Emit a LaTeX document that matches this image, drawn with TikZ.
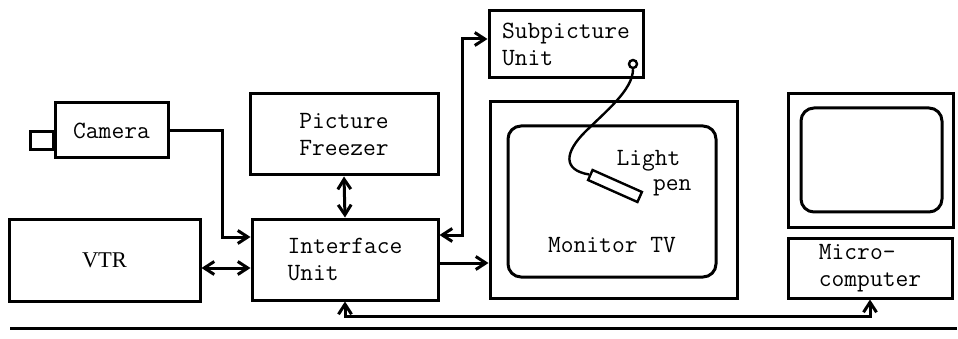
\documentclass[tikz,border=0pt]{standalone}
\usepackage{fontspec}
\usepackage{tikz}
\usetikzlibrary{positioning,arrows.meta}
\newfontfamily\vtrfont{Liberation Serif}

\begin{document}
\begin{tikzpicture}[x=1pt, y=-1pt, line width=3pt,
    font=\fontsize{24.8}{27}\selectfont\ttfamily,
    box/.style={draw, rectangle, align=left, inner sep=0pt},
    screen/.style={draw, rectangle, rounded corners=13pt, inner sep=0pt},
    arr/.style={-{Straight Barb[length=10pt,width=13pt]}},
    darr/.style={{Straight Barb[length=10pt,width=13pt]}-{Straight Barb[length=10pt,width=13pt]}}]

    \useasboundingbox (0,0) rectangle (958,339);

    \node[box, minimum width=113pt, minimum height=55pt] (cam) at (111.5,130.5) {Camera};
    \node[box, minimum width=23pt, minimum height=18pt, anchor=east] (lens) at (55,141) {};
    \node[box, minimum width=191pt, minimum height=82pt] (vtr) at (104.5,260) {\vtrfont\fontsize{22.5}{26}\selectfont VTR};
    \node[box, minimum width=188pt, minimum height=81pt] (frz) at (344,134.5) {Picture\\Freezer};
    \node[box, minimum width=186pt, minimum height=81pt] (iface) at (345,259.5) {Interface\\Unit};
    \node[box, minimum width=154pt, minimum height=67pt] (sub) at (566,44.5) {Subpicture\\Unit};

    \node[box, minimum width=247pt, minimum height=196pt] (mon) at (613.5,200) {};
    \node[screen, minimum width=208pt, minimum height=151pt] (scr) at (612,201.5) {};
    \node (montv) at (612,245) {Monitor TV};

    \node[box, minimum width=165pt, minimum height=133pt] (pc) at (870.5,160.5) {};
    \node[screen, minimum width=141pt, minimum height=104pt] (pcscr) at (871.5,160) {};
    \node[box, minimum width=164pt, minimum height=60pt] (micro) at (870,268) {Micro-\\computer};

    \node[circle, draw, inner sep=0pt, minimum size=8pt, line width=2.4pt] (jack) at (633,64) {};
    \node[draw, rectangle, inner sep=0pt, minimum width=54pt, minimum height=11pt,
          rotate=-24, line width=2.4pt] (pen) at (615,186) {};
    \node[anchor=base west, inner sep=0pt] (light) at (615,166) {Light};
    \node[anchor=base east, inner sep=0pt] (penlbl) at (693,190) {pen};

    \draw[line width=2.4pt] (jack.south) .. controls (633,90) and (605,112) .. (585,132)
        .. controls (565,152) and (562,170) .. (pen.west);

    \draw[arr] (cam.east) -| (222,237) -- (iface.west |- 0,237);
    \draw[darr] (vtr.east |- 0,268) -- (iface.west |- 0,268);
    \draw[darr] (frz.south) -- (iface.north);
    \draw[darr] (iface.east |- 0,235) -| (462,39) -- (sub.west |- 0,39);
    \draw[arr] (iface.east |- 0,263) -- (mon.west |- 0,263);
    \draw[darr] (iface.south) -- ++(0,15) -| (micro.south);

    \draw (10,328) -- (957,328);

\end{tikzpicture}
\end{document}
